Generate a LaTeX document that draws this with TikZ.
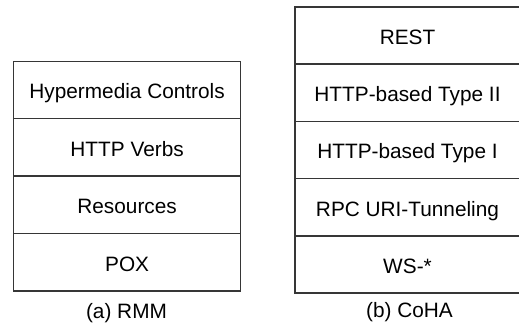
\documentclass[tikz,border=0pt]{standalone}
\usepackage{fontspec}
\setmainfont{Liberation Sans}
\definecolor{edge}{HTML}{363636}
\begin{document}
\begin{tikzpicture}[x=1bp,y=-1bp,
  layer/.style={draw=edge, line width=1.5bp, rectangle, inner sep=0pt, outer sep=0pt,
    text height=17.6bp, text depth=0pt,
    font=\fontsize{20.8bp}{24bp}\selectfont, text=black},
  lbox/.style={layer, minimum width=227.2bp, minimum height=57.4bp},
  rbox/.style={layer, minimum width=225bp, minimum height=57.2bp},
  caption/.style={font=\fontsize{20.8bp}{24bp}\selectfont, text=black, inner sep=0pt, anchor=base}]
\useasboundingbox (0,0) rectangle (519,327);
% left stack (RMM)
\node[lbox] (hc) at (127.1,90.0) {Hypermedia Controls};
\node[lbox] (hv) at (127.1,147.4) {HTTP Verbs};
\node[lbox] (rs) at (127.1,204.8) {Resources};
\node[lbox] (px) at (127.1,262.2) {POX};
\node[caption] (ca) at (126.5,318.2) {(a) RMM};
% right stack (CoHA)
\node[rbox] (rest) at (407.5,35.6) {REST};
\node[rbox] (t2) at (407.5,92.8) {HTTP-based Type II};
\node[rbox] (t1) at (407.5,150.0) {HTTP-based Type I};
\node[rbox] (rpc) at (407.5,207.2) {RPC URI-Tunneling};
\node[rbox] (ws) at (407.5,264.4) {WS-*};
\node[caption] (cb) at (409.5,317.4) {(b) CoHA};
\end{tikzpicture}
\end{document}
